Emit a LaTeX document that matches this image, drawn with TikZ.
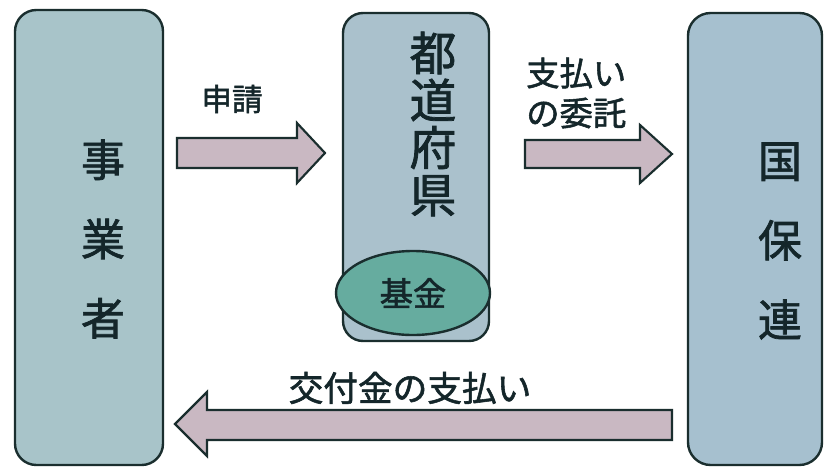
\documentclass[tikz,border=0pt]{standalone}
\usepackage{fontspec}
\setmainfont{Noto Sans CJK JP}[RawFeature={embolden=1.6}]
\usetikzlibrary{shapes.geometric}
\definecolor{boxL}{HTML}{A8C4C9}
\definecolor{boxM}{HTML}{AAC1CC}
\definecolor{boxR}{HTML}{A6C0CF}
\definecolor{fund}{HTML}{66AC9F}
\definecolor{arrowfill}{HTML}{C9B8C2}
\definecolor{outl}{HTML}{1A2E2E}
\definecolor{inktext}{HTML}{14262A}
\begin{document}
\begin{tikzpicture}[x=0.75pt,y=-0.75pt,
  entity/.style={draw=outl,line width=1.8pt},
  blockarrow/.style={draw=outl,fill=arrowfill,line width=1.6pt,line join=miter},
  label/.style={text=inktext,inner sep=0pt,align=center},
  vtext/.style={text=inktext,inner sep=0pt,align=center}]
\useasboundingbox[fill=white] (0,0) rectangle (824,467);

% boxes
\draw[entity,fill=boxL,rounded corners=16pt] (15,10) rectangle (163,465);
\draw[entity,fill=boxM,rounded corners=15pt] (343,13) rectangle (489,341);
\draw[entity,fill=boxR,rounded corners=17pt] (688,13) rectangle (822,465);

% fund ellipse
\node[ellipse,draw=outl,line width=1.8pt,fill=fund,minimum width=115.5pt,minimum height=63pt,inner sep=0pt,text=inktext,font=\fontsize{25pt}{25pt}\selectfont] (kikin) at (413,293) {基金};

% box texts
\node[vtext,font=\fontsize{33pt}{59.5pt}\selectfont] (jigyo) at (103,239) {事\\業\\者};
\node[vtext,font=\fontsize{35pt}{35.5pt}\selectfont] (todo) at (433,124) {都\\道\\府\\県};
\node[vtext,font=\fontsize{33pt}{59.6pt}\selectfont] (koku) at (780,241) {国\\保\\連};

% arrows
\coordinate (a1t) at (325,153);
\draw[blockarrow] (177,138) -- (297,138) -- (297,123) -- (a1t) -- (297,183) -- (297,168) -- (177,168) -- cycle;
\coordinate (a2t) at (672,154);
\draw[blockarrow] (525,140) -- (640,140) -- (640,125) -- (a2t) -- (640,183) -- (640,168) -- (525,168) -- cycle;
\coordinate (a3t) at (175,424);
\draw[blockarrow] (672,410) -- (207,410) -- (207,392) -- (a3t) -- (207,456) -- (207,440) -- (672,440) -- cycle;

% arrow labels
\node[label,font=\fontsize{23pt}{23pt}\selectfont] (shinsei) at (232,99) {申請};
\node[label,align=left,anchor=west,font=\fontsize{25pt}{30pt}\selectfont] (itaku) at (526,93) {支払い\\の委託};
\node[label,font=\fontsize{26pt}{26pt}\selectfont] (kofu) at (410,388) {交付金の支払い};
\end{tikzpicture}
\end{document}
